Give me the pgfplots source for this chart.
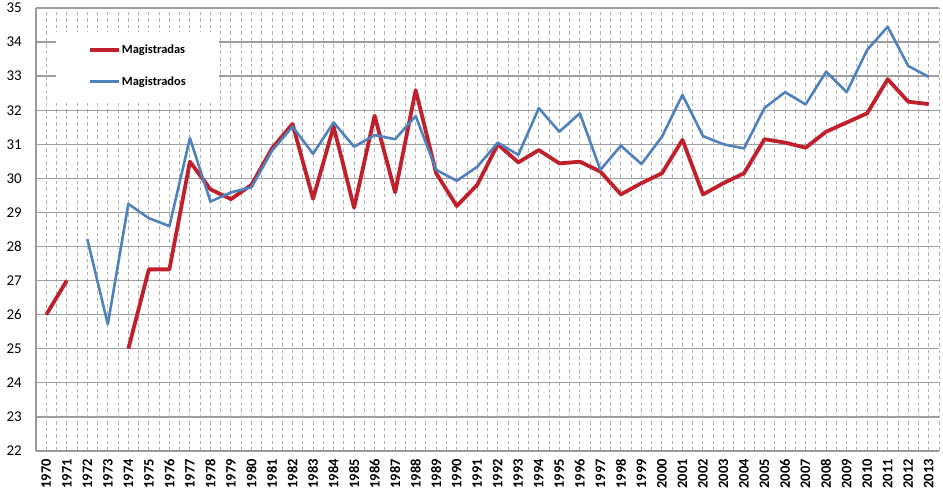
\documentclass[border=0pt]{standalone}
\usepackage{pgfplots}
\pgfplotsset{compat=1.18}
\usepackage{pgfplotstable}
\usepackage{fontspec}
\setmainfont{Carlito}
\definecolor{redl}{RGB}{192,32,44}
\definecolor{bluel}{RGB}{79,129,189}
\pgfplotstableread{
year fem masc
1970 26.00 nan
1971 27.00 nan
1972 nan 28.22
1973 nan 25.72
1974 25.00 29.25
1975 27.33 28.83
1976 27.33 28.60
1977 30.49 31.18
1978 29.68 29.32
1979 29.39 29.59
1980 29.81 29.74
1981 30.88 30.81
1982 31.60 31.52
1983 29.40 30.72
1984 31.52 31.64
1985 29.14 30.93
1986 31.84 31.27
1987 29.59 31.15
1988 32.59 31.83
1989 30.15 30.25
1990 29.19 29.93
1991 29.81 30.34
1992 31.00 31.05
1993 30.47 30.69
1994 30.83 32.06
1995 30.44 31.37
1996 30.49 31.91
1997 30.20 30.25
1998 29.53 30.96
1999 29.86 30.42
2000 30.15 31.22
2001 31.13 32.45
2002 29.53 31.24
2003 29.86 31.00
2004 30.15 30.88
2005 31.15 32.07
2006 31.05 32.53
2007 30.90 32.17
2008 31.37 33.13
2009 31.64 32.53
2010 31.91 33.77
2011 32.91 34.45
2012 32.25 33.30
2013 32.18 32.98
}\datatable
\begin{document}
\begin{tikzpicture}
\useasboundingbox (-36bp,-44bp) rectangle (907bp,451bp);
\begin{axis}[at={(0,0)}, anchor=south west, scale only axis,
  width=903bp, height=443bp,
  xmin=1969.5, xmax=2013.5, ymin=22, ymax=35,
  xtick={1970,...,2013}, ytick={22,...,35},
  minor xtick={1969.5,1970.5,...,2013.5},
  axis x line=bottom, axis y line=left,
  axis line style={-, draw=black!40, line width=1.2bp},
  xmajorgrids, xminorgrids, ymajorgrids,
  x grid style={dash pattern=on 3.5bp off 3bp, draw=black!30, line width=0.9bp},
  y grid style={draw=black!38, line width=1.3bp},
  major tick length=0pt, minor tick length=0pt,
  tick style={draw=none},
  xticklabel style={rotate=90, anchor=east, font=\fontsize{14.5}{14.5}\selectfont\bfseries, inner xsep=8bp},
  yticklabel style={font=\fontsize{15}{15}\selectfont, inner xsep=14bp},
  /pgf/number format/1000 sep={},
  /pgf/number format/assume math mode=true,
  unbounded coords=jump,
  legend style={at={(rel axis cs:0.0221,0.946)}, anchor=north west, draw=none, fill=white,
    inner xsep=32bp, inner ysep=11bp, row sep=17bp,
    font=\fontsize{12.5}{13}\selectfont\bfseries,
    nodes={inner xsep=1bp, inner ysep=2bp}},
  legend cell align=left,
  legend image code/.code={\draw[#1] (0bp,0bp) -- (29bp,0bp);},
]
\addplot[redl, line width=3.8bp, line join=round] table[x=year, y=fem] {\datatable};
\addlegendentry{Magistradas}
\addplot[bluel, line width=2.6bp, line join=round] table[x=year, y=masc] {\datatable};
\addlegendentry{Magistrados}
\end{axis}
\end{tikzpicture}
\end{document}
